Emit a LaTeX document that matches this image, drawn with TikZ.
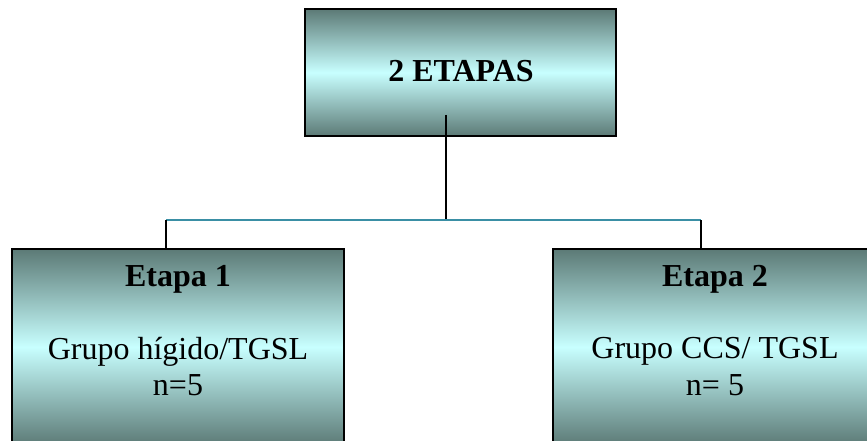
\documentclass[tikz,border=0pt]{standalone}
\usepackage{fontspec}
\setmainfont{Liberation Serif}
\begin{document}
\begin{tikzpicture}[x=1pt,y=-1pt,
  stagebox/.style={draw=black, line width=2pt, rectangle, inner sep=0pt,
    top color=dkteal, bottom color=dkteal, middle color=ltcyan},
  title/.style={font=\fontsize{32}{36}\selectfont\bfseries, anchor=base, inner sep=0pt},
  body/.style={font=\fontsize{32}{36}\selectfont, anchor=base, inner sep=0pt},
  stem/.style={draw=black, line width=1.4pt},
  bar/.style={draw=barteal, line width=1.6pt}]
\definecolor{dkteal}{RGB}{92,122,118}
\definecolor{ltcyan}{RGB}{200,255,255}
\definecolor{barteal}{RGB}{58,143,165}
\clip (0,0) rectangle (867,441);
\fill[white] (0,0) rectangle (867,441);

% boxes
\node[stagebox, minimum width=311pt, minimum height=127pt] (top) at (460.5,72.5) {};
\node[stagebox, minimum width=332pt, minimum height=196pt] (left) at (178,347) {};
\node[stagebox, minimum width=324pt, minimum height=196pt] (right) at (715,347) {};

% labels
\node[title] (ttop) at (461,82) {2 ETAPAS};
\node[title] (tl1) at (178,286) {Etapa 1};
\node[body]  (tl2) at (178,359) {Grupo hígido/TGSL};
\node[body]  (tl3) at (178,395) {n=5};
\node[title] (tr1) at (715,286) {Etapa 2};
\node[body]  (tr2) at (715,358) {Grupo CCS/ TGSL};
\node[body]  (tr3) at (715,395) {n= 5};

% connectors
\coordinate (src) at (446,115);
\coordinate (hub) at (446,220);
\coordinate (lj) at (166,220);
\coordinate (rj) at (701,220);
\draw[stem] (src) -- (hub);
\draw[bar] (lj) -- (rj);
\draw[stem] (lj) -- (lj |- left.north);
\draw[stem] (rj) -- (rj |- right.north);
\end{tikzpicture}
\end{document}
